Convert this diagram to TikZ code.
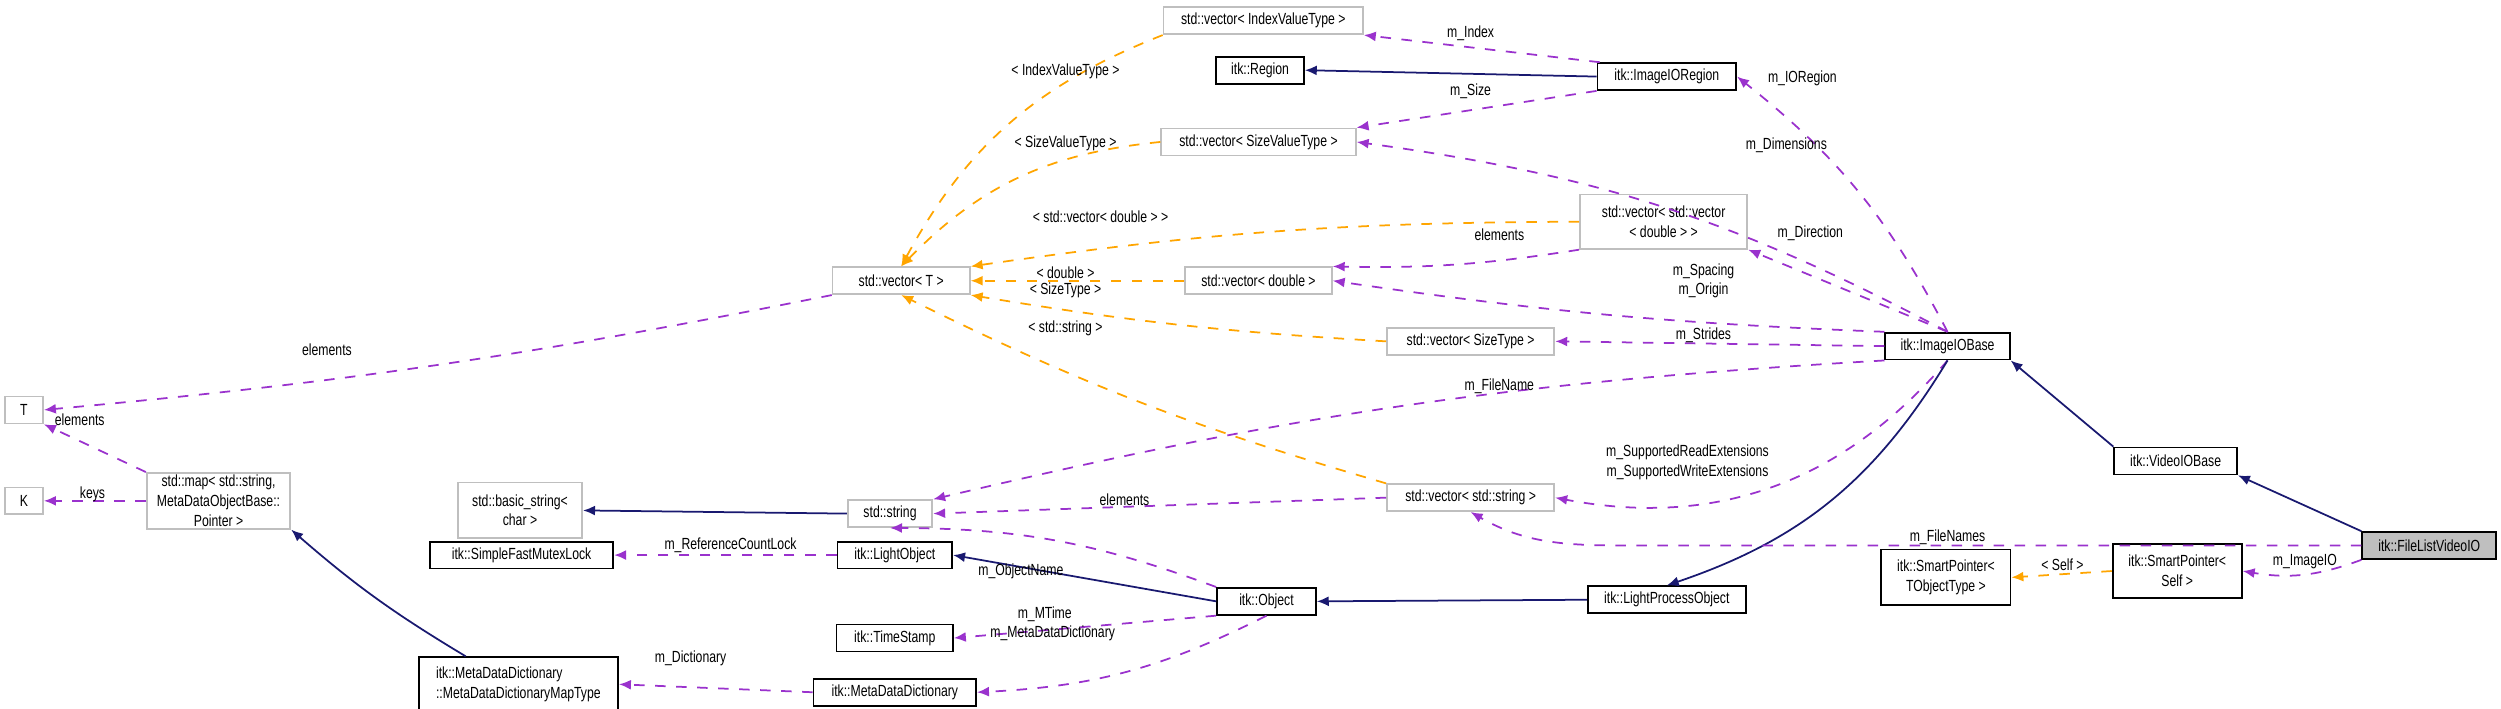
\documentclass[tikz,border=0pt]{standalone}
\usepackage{fontspec}
\setmainfont{Liberation Sans}[FakeStretch=0.76]
\usetikzlibrary{arrows.meta}
\definecolor{mem}{HTML}{9A32CD}
\definecolor{tmpl}{HTML}{FFA500}
\definecolor{inh}{HTML}{191970}
\definecolor{ghost}{HTML}{BFBFBF}
\begin{document}
\begin{tikzpicture}[x=0.016cm,y=-0.016cm,
  every node/.style={font=\fontsize{4.6}{5.6}\selectfont, inner sep=0.5pt},
  box/.style={draw=black, line width=0.5pt, align=center, minimum height=0.27cm},
  gbox/.style={draw=ghost, line width=0.5pt, align=center, minimum height=0.27cm},
  lbl/.style={align=center, fill=none},
  memb/.style={draw=mem, dashed, line width=0.5pt, -{Latex[length=0.12cm,width=0.1cm]}},
  tpl/.style={draw=tmpl, dashed, line width=0.5pt, -{Latex[length=0.12cm,width=0.1cm]}},
  inhe/.style={draw=inh, line width=0.5pt, -{Latex[length=0.12cm,width=0.1cm]}}]
\useasboundingbox (0,0) rectangle (1568,444);
% nodes
\node[gbox, minimum width={125*0.016cm}] (vIdx) at (792,13) {std::vector< IndexValueType >};
\node[box, minimum width={55*0.016cm}] (reg) at (790,44) {itk::Region};
\node[box, minimum width={87*0.016cm}] (ioreg) at (1045,48) {itk::ImageIORegion};
\node[gbox, minimum width={122*0.016cm}] (vSize) at (789,89) {std::vector< SizeValueType >};
\node[gbox, minimum width={105*0.016cm}, minimum height={34*0.016cm}] (vvec) at (1043,139) {std::vector< std::vector\\< double > >};
\node[gbox, minimum width={86*0.016cm}] (vT) at (565,176) {std::vector< T >};
\node[gbox, minimum width={92*0.016cm}] (vDbl) at (789,176) {std::vector< double >};
\node[gbox, minimum width={105*0.016cm}] (vST) at (922,214) {std::vector< SizeType >};
\node[box, minimum width={78*0.016cm}] (iob) at (1221,217) {itk::ImageIOBase};
\node[box, minimum width={77*0.016cm}] (vio) at (1364,289) {itk::VideoIOBase};
\node[gbox, minimum width={24*0.016cm}] (T) at (15,257) {T};
\node[gbox, minimum width={24*0.016cm}] (K) at (15,314) {K};
\node[gbox, minimum width={90*0.016cm}, minimum height={35*0.016cm}] (map) at (137,314) {std::map< std::string,\\ MetaDataObjectBase::\\Pointer >};
\node[gbox, minimum width={78*0.016cm}, minimum height={35*0.016cm}] (bstr) at (326,320) {std::basic\_string<\\char >};
\node[gbox, minimum width={53*0.016cm}] (str) at (558,322) {std::string};
\node[gbox, minimum width={105*0.016cm}] (vStr) at (922,312) {std::vector< std::string >};
\node[box, fill=ghost, minimum width={84*0.016cm}] (flv) at (1523,342) {itk::FileListVideoIO};
\node[box, minimum width={81*0.016cm}, minimum height={34*0.016cm}] (spS) at (1365,358) {itk::SmartPointer<\\Self >};
\node[box, minimum width={81*0.016cm}, minimum height={35*0.016cm}] (spT) at (1220,362) {itk::SmartPointer<\\TObjectType >};
\node[box, minimum width={99*0.016cm}] (lpo) at (1045,376) {itk::LightProcessObject};
\node[box, minimum width={115*0.016cm}] (mtx) at (327,348) {itk::SimpleFastMutexLock};
\node[box, minimum width={72*0.016cm}] (lo) at (561,348) {itk::LightObject};
\node[box, minimum width={62*0.016cm}] (obj) at (794,377) {itk::Object};
\node[box, minimum width={73*0.016cm}] (ts) at (561,400) {itk::TimeStamp};
\node[box, minimum width={125*0.016cm}, minimum height={34*0.016cm}, align=left] (mmt) at (325,429) {itk::MetaDataDictionary\\::MetaDataDictionaryMapType};
\node[box, minimum width={102*0.016cm}] (mdd) at (561,434) {itk::MetaDataDictionary};
% edges
\draw[memb] (ioreg.north west) ++(2,0) coordinate (a1) (a1) -- (vIdx.south east);
\draw[inhe] (ioreg.west) -- (reg.east);
\draw[memb] (ioreg.south west) -- (vSize.north east);
\draw[memb] (iob.north) to[bend right=12] (ioreg.east);
\draw[memb] (iob.north) to[bend right=10] (vSize.east);
\draw[memb] (iob.north) -- (vvec.south east);
\draw[memb] (iob.north west) to[bend left=3] (vDbl.east);
\draw[memb] (iob.west) -- (vST.east);
\draw[memb] (iob.south west) to[bend right=5] (str.north east);
\draw[memb] (iob.south) to[bend left=30] (vStr.east);
\draw[inhe] (iob.south) to[bend left=20] (lpo.north);
\draw[inhe] (vio.north west) -- (iob.south east);
\draw[inhe] (flv.north west) -- (vio.south east);
\draw[memb] (flv.west) -- (1020,342) to[out=180,in=-30] (vStr.south);
\draw[memb] (flv.south west) to[bend left=15] (spS.east);
\draw[tpl] (spS.west) -- (spT.east);
\draw[memb] (vvec.south west) to[bend left=5] (vDbl.north east);
\draw[tpl] (vIdx.south west) to[bend right=20] (vT.north);
\draw[tpl] (vSize.west) to[bend right=20] (vT.north);
\draw[tpl] (vvec.west) to[bend right=4] (vT.north east);
\draw[tpl] (vDbl.west) -- (vT.east);
\draw[tpl] (vST.west) to[bend left=3] (vT.south east);
\draw[tpl] (vStr.north west) to[bend left=5] (vT.south);
\draw[memb] (vT.south west) to[bend left=3] (T.east);
\draw[memb] (map.north west) -- (T.south east);
\draw[memb] (map.west) -- (K.east);
\draw[inhe] (mmt.north west) ++(30,0) coordinate (m1) (m1) to[bend left=5] (map.south east);
\draw[memb] (vStr.west) -- (str.east);
\draw[inhe] (str.west) -- (bstr.east);
\draw[memb] (lo.west) -- (mtx.east);
\draw[inhe] (obj.west) -- (lo.east);
\draw[memb] (obj.north west) to[bend right=10] (str.south);
\draw[memb] (obj.south west) -- (ts.east);
\draw[memb] (obj.south) to[bend left=12] (mdd.east);
\draw[memb] (mdd.west) -- (mmt.east);
\draw[inhe] (lpo.west) -- (obj.east);
% labels
\node[lbl] (l1) at (922,21) {m\_Index};
\node[lbl] (l2) at (668,45) {< IndexValueType >};
\node[lbl] (l3) at (1130,49) {m\_IORegion};
\node[lbl] (l4) at (922,57) {m\_Size};
\node[lbl] (l5) at (668,90) {< SizeValueType >};
\node[lbl] (l6) at (1120,91) {m\_Dimensions};
\node[lbl] (l7) at (1135,146) {m\_Direction};
\node[lbl] (l8) at (690,136) {< std::vector< double > >};
\node[lbl] (l9) at (940,147) {elements};
\node[lbl] (l10) at (668,171) {< double >};
\node[lbl] (l11) at (668,182) {< SizeType >};
\node[lbl] (l12) at (1068,176) {m\_Spacing\\m\_Origin};
\node[lbl] (l13) at (1068,210) {m\_Strides};
\node[lbl] (l14) at (668,206) {< std::string >};
\node[lbl] (l15) at (205,219) {elements};
\node[lbl] (l16) at (940,242) {m\_FileName};
\node[lbl] (l17) at (50,263) {elements};
\node[lbl] (l18) at (58,310) {keys};
\node[lbl] (l19) at (1058,290) {m\_SupportedReadExtensions\\m\_SupportedWriteExtensions};
\node[lbl] (l20) at (705,313) {elements};
\node[lbl] (l21) at (1221,337) {m\_FileNames};
\node[lbl] (l22) at (1445,352) {m\_ImageIO};
\node[lbl] (l23) at (1293,354) {< Self >};
\node[lbl] (l24) at (458,342) {m\_ReferenceCountLock};
\node[lbl] (l25) at (640,358) {m\_ObjectName};
\node[lbl] (l26) at (655,385) {m\_MTime};
\node[lbl] (l27) at (660,397) {m\_MetaDataDictionary};
\node[lbl] (l28) at (433,413) {m\_Dictionary};
\end{tikzpicture}
\end{document}
